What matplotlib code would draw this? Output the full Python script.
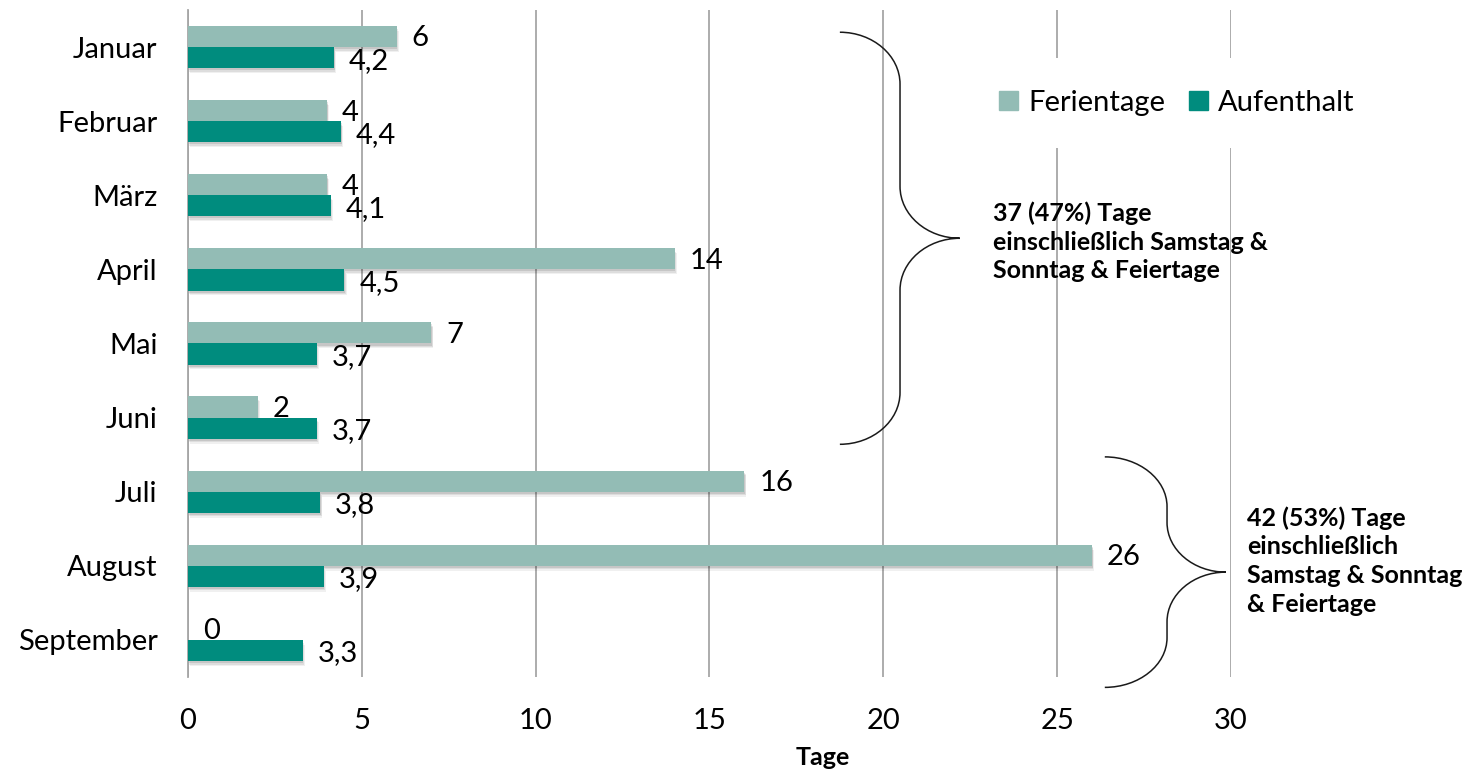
import matplotlib
matplotlib.use("Agg")
import matplotlib.pyplot as plt
import matplotlib.patheffects as pe
from matplotlib.path import Path
from matplotlib.patches import PathPatch, Patch
import numpy as np

plt.rcParams['font.family'] = ['Lato', 'DejaVu Sans']

months = ["Januar", "Februar", "März", "April", "Mai", "Juni",
          "Juli", "August", "September"]
ferientage = [6, 4, 4, 14, 7, 2, 16, 26, 0]
aufenthalt = [4.2, 4.4, 4.1, 4.5, 3.7, 3.7, 3.8, 3.9, 3.3]
x_ticks = [0, 5, 10, 15, 20, 25, 30]
series_names = ["Ferientage", "Aufenthalt"]
note_first = "37 (47%) Tage\neinschließlich Samstag &\nSonntag & Feiertage"
note_second = "42 (53%) Tage\neinschließlich\nSamstag & Sonntag\n& Feiertage"

C_FERIEN = "#93BCB5"
C_AUFENT = "#008C7E"
C_GRID = "#A6A6A6"

W, H = 1471, 772
fig = plt.figure(figsize=(W / 100, H / 100), dpi=100)
ax = fig.add_axes([188 / W, 1 - 677 / H, (1231 - 188) / W, (677 - 10) / H])

y = np.arange(len(months))
h = 0.285
shadow = [pe.SimplePatchShadow(offset=(0.5, -1.5), shadow_rgbFace="k", alpha=0.10),
          pe.SimplePatchShadow(offset=(1, -2.5), shadow_rgbFace="k", alpha=0.08),
          pe.SimplePatchShadow(offset=(1.5, -3.5), shadow_rgbFace="k", alpha=0.06),
          pe.Normal()]

b1 = ax.barh(y - h / 2, ferientage, height=h, color=C_FERIEN, zorder=3)
b2 = ax.barh(y + h / 2, aufenthalt, height=h, color=C_AUFENT, zorder=4)
for bars in (b1, b2):
    for r in bars:
        r.set_path_effects(shadow)


def fmt(v):
    return f"{v:g}".replace(".", ",")


for yi, v in zip(y, ferientage):
    ax.annotate(fmt(v), (v, yi - h / 2), xytext=(15, -2), textcoords="offset pixels",
                ha="left", va="center", fontsize=21, color="black", zorder=6)
for yi, v in zip(y, aufenthalt):
    ax.annotate(fmt(v), (v, yi + h / 2), xytext=(15, -3), textcoords="offset pixels",
                ha="left", va="center", fontsize=21, color="black", zorder=6)

ax.set_xlim(0, 30)
ax.set_ylim(len(months) - 0.5, -0.5)
ax.set_xticks(x_ticks)
ax.set_xticklabels([str(t) for t in x_ticks], fontsize=21)
ax.set_yticks(y)
ax.set_yticklabels(months, fontsize=21)
ax.tick_params(axis="both", length=0)
ax.tick_params(axis="y", pad=22)
ax.tick_params(axis="x", pad=22)
ax.grid(axis="x", color=C_GRID, linewidth=1.3)
ax.set_axisbelow(True)
for s in ("top", "right", "bottom"):
    ax.spines[s].set_visible(False)
ax.spines["left"].set_color(C_GRID)
ax.spines["left"].set_linewidth(1.3)

ax.set_xlabel("Tage", fontsize=18, fontweight="bold")
ax.xaxis.set_label_coords((823 - 188) / (1231 - 188), -0.103)

handles = [Patch(color=C_FERIEN), Patch(color=C_AUFENT)]
leg = ax.legend(handles, series_names, loc="center",
                bbox_to_anchor=(1177 / W, 1 - 103 / H), bbox_transform=fig.transFigure,
                ncol=2, fontsize=21, frameon=True, facecolor="white", edgecolor="none",
                framealpha=1, borderpad=1.1, handlelength=0.65, handleheight=0.65,
                handletextpad=0.35, columnspacing=0.8, borderaxespad=0)
leg.set_zorder(7)


def brace(x0, xv, xt, ya, yb, r):
    ym = (ya + yb) / 2
    k = 0.55
    verts = [(x0, ya),
             (x0 + k * (xv - x0), ya), (xv, ya + (1 - k) * r), (xv, ya + r),
             (xv, ym - r),
             (xv, ym - (1 - k) * r), (xt - k * (xt - xv), ym), (xt, ym),
             (xt - k * (xt - xv), ym), (xv, ym + (1 - k) * r), (xv, ym + r),
             (xv, yb - r),
             (xv, yb - (1 - k) * r), (x0 + k * (xv - x0), yb), (x0, yb)]
    codes = [Path.MOVETO,
             Path.CURVE4, Path.CURVE4, Path.CURVE4,
             Path.LINETO,
             Path.CURVE4, Path.CURVE4, Path.CURVE4,
             Path.CURVE4, Path.CURVE4, Path.CURVE4,
             Path.LINETO,
             Path.CURVE4, Path.CURVE4, Path.CURVE4]
    p = PathPatch(Path(verts, codes), facecolor="none", edgecolor="#1a1a1a",
                  linewidth=1.1, clip_on=False, zorder=5)
    ax.add_patch(p)


brace(18.75, 20.48, 22.2, -0.2, 5.36, 0.7)
brace(26.37, 28.16, 29.85, 5.53, 8.64, 0.67)

fig.text(993 / W, 1 - 242 / H, note_first, ha="left", va="center",
         fontsize=18, fontweight="bold", linespacing=1.3)
fig.text(1247 / W, 1 - 561 / H, note_second, ha="left", va="center",
         fontsize=18, fontweight="bold", linespacing=1.3)

fig.savefig("out.png", dpi=100, facecolor="white")
